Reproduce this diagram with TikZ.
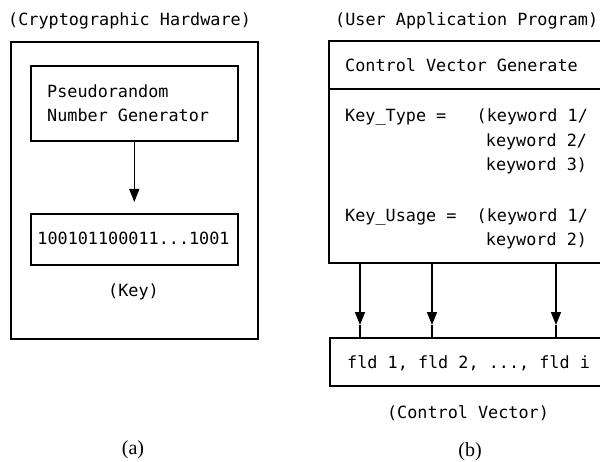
\documentclass[tikz,border=0pt]{standalone}
\usepackage{fontspec}
\setmainfont{Liberation Serif}
\newfontfamily\monofnt{DejaVu Sans Mono}
\usetikzlibrary{arrows.meta}
\begin{document}
\begin{tikzpicture}[x=1bp,y=-1bp,
  box/.style={draw,line width=1.6bp,inner sep=0pt,anchor=north west},
  rule/.style={line width=1.6bp},
  txt/.style={font=\monofnt\fontsize{16.8bp}{20bp}\selectfont,inner sep=0pt,anchor=base west},
  ctxt/.style={txt,anchor=base},
  arr/.style={line width=1.6bp,-{Triangle[width=10bp,length=13bp]}},
  lbl/.style={font=\fontsize{20bp}{24bp}\selectfont,inner sep=0pt}]
\useasboundingbox (0,0) rectangle (600,462);
\clip (0,0) rectangle (600,462);
% (a)
\node[box,minimum width=247bp,minimum height=297bp] (hw) at (10,41) {};
\node[box,minimum width=207bp,minimum height=75bp] (prng) at (30,65) {};
\node[box,minimum width=207bp,minimum height=51bp] (key) at (30,213) {};
\draw[arr,shorten >=11bp] (prng.south) -- (key.north);
\node[txt] (t1) at (8,26) {(Cryptographic Hardware)};
\node[txt] (p1) at (47,98) {Pseudorandom};
\node[txt] (p2) at (47,122) {Number Generator};
\node[ctxt] (kv) at (133.5,245) {100101100011...1001};
\node[ctxt] (kl) at (133.5,297) {(Key)};
\node[lbl] (la) at (133,450) {(a)};
% (b)
\node[box,minimum width=320bp,minimum height=222bp] (cvg) at (328,40) {};
\draw[rule] (cvg.north west) ++(0,49) -- ++(320,0);
\node[box,minimum width=320bp,minimum height=48bp] (fld) at (329,337) {};
\foreach \x [count=\i] in {360,432,556} {
  \coordinate (s\i) at (\x,262);
  \coordinate (m\i) at (\x,325);
  \draw[arr] (s\i) -- (m\i);
  \draw[rule] (m\i) -- (m\i |- fld.north);
}
\node[txt] (t2) at (335,26) {(User Application Program)};
\node[txt] (cv) at (345,72) {Control Vector Generate};
\node[txt] (kt1) at (345,122) {Key\_Type =~~~(keyword 1/};
\node[txt] (kt2) at (485.7,147) {keyword 2/};
\node[txt] (kt3) at (485.7,171) {keyword 3)};
\node[txt] (ku1) at (345,222) {Key\_Usage =~~(keyword 1/};
\node[txt] (ku2) at (485.7,246) {keyword 2)};
\node[txt] (fl) at (347,368) {fld 1, fld 2, ..., fld i};
\node[ctxt] (cvl) at (468,418) {(Control Vector)};
\node[lbl] (lb) at (470,452) {(b)};
\end{tikzpicture}
\end{document}
